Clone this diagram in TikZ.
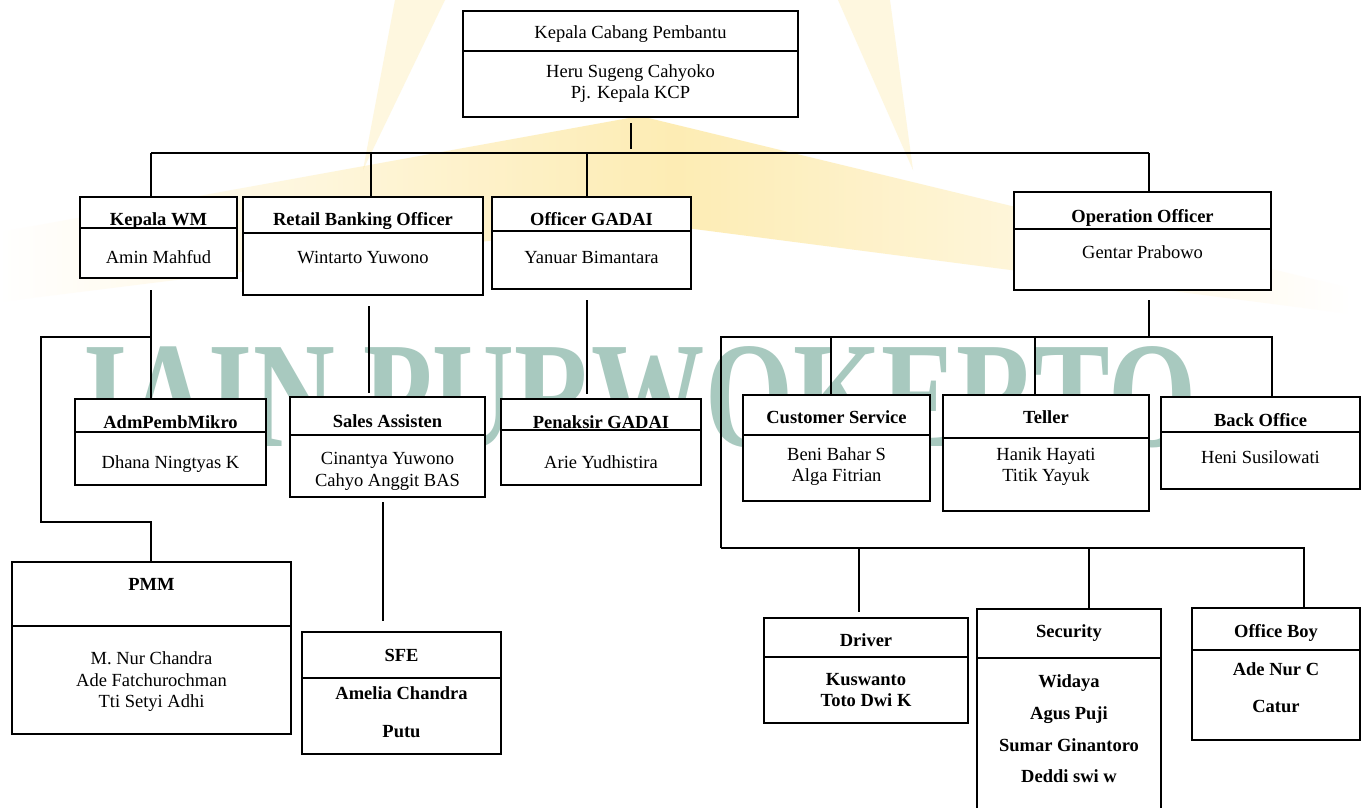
\documentclass[tikz,border=0pt]{standalone}
\usepackage{fontspec}
\setmainfont{Liberation Serif}
\definecolor{wmteal}{RGB}{168,201,191}
\definecolor{wmgold}{RGB}{253,224,130}
\tikzset{
  obox/.style={draw, line width=2pt, fill=white, inner sep=0pt, outer sep=0pt},
  divl/.style={line width=2pt},
  ttl/.style={font=\fontsize{18.5}{21.5}\selectfont\bfseries, align=center, inner sep=0pt, anchor=base},
  ttlr/.style={font=\fontsize{18.5}{21.5}\selectfont, align=center, inner sep=0pt, anchor=base},
  nm/.style={font=\fontsize{18.5}{21.5}\selectfont, align=center, inner sep=0pt},
  nmb/.style={font=\fontsize{18.5}{21.5}\selectfont\bfseries, align=center, inner sep=0pt},
  conn/.style={line width=1.7pt, line join=miter},
}
\newcommand\orgbox[6]{%
  \node[obox, anchor=north west, minimum width={#4-#2}, minimum height={#5-#3}] (#1) at (#2,#3) {};
  \draw[divl] (#1.west |- 0,#6) -- (#1.east |- 0,#6);
}
\begin{document}
\begin{tikzpicture}[x=1pt,y=-1pt]
\useasboundingbox (0,0) rectangle (1368,808);
\clip (0,0) rectangle (1368,808);
\fill[white] (0,0) rectangle (1368,808);

% watermark
\shade[left color=white, right color=white, middle color=wmgold, opacity=0.6] (0,232) -- (640,116) -- (1350,288) -- (1350,314) -- (640,222) -- (0,302) -- cycle;
\fill[wmgold, opacity=0.25] (395,0) -- (445,0) -- (363,170) -- cycle;
\fill[wmgold, opacity=0.25] (838,0) -- (890,0) -- (913,170) -- cycle;
\node[font=\fontsize{151}{151}\selectfont\bfseries, text=wmteal, anchor=base west, inner sep=0pt, xscale=0.75] (wm) at (83,446) {IAIN PURWOKERTO};

% connectors level 1
\coordinate (t0) at (631,123);
\coordinate (t1) at (631,149);
\coordinate (b1L) at (151,153);
\coordinate (b1R) at (1149,153);
\coordinate (b1rbo) at (371,153);
\coordinate (b1og) at (587,153);

% boxes
\orgbox{top}{463}{11}{798}{117}{51}
\orgbox{kwm}{80}{197}{237}{278}{228}
\orgbox{rbo}{243}{197}{483}{295}{233}
\orgbox{og}{492}{197}{691}{289}{231}
\orgbox{opo}{1014}{192}{1271}{290}{229}
\orgbox{adm}{75}{399}{266}{485}{432}
\orgbox{sales}{290}{397}{485}{497}{435}
\orgbox{pen}{501}{399}{701}{485}{430}
\orgbox{cs}{743}{395}{930}{501}{435}
\orgbox{teller}{943}{395}{1149}{511}{438}
\orgbox{bo}{1161}{397}{1360}{489}{432}
\orgbox{pmm}{12}{562}{291}{734}{626}
\orgbox{sfe}{302}{632}{501}{754}{678}
\orgbox{driver}{764}{618}{968}{723}{657}
\orgbox{sec}{977}{609}{1161}{830}{658}
\orgbox{ob}{1192}{608}{1360}{740}{650}

% texts
\node[ttlr] (top-t) at (top.north |- 0,39) {Kepala Cabang Pembantu};
\node[nm] (top-n) at (top.north |- 0,83.5) {Heru Sugeng Cahyoko\\Pj. Kepala KCP};
\node[ttl] (kwm-t) at (kwm.north |- 0,225) {Kepala WM};
\node[ttlr] (kwm-n) at (kwm.north |- 0,263) {Amin Mahfud};
\node[ttl] (rbo-t) at (rbo.north |- 0,225) {Retail Banking Officer};
\node[ttlr] (rbo-n) at (rbo.north |- 0,263) {Wintarto Yuwono};
\node[ttl] (og-t) at (og.north |- 0,225) {Officer GADAI};
\node[ttlr] (og-n) at (og.north |- 0,263) {Yanuar Bimantara};
\node[ttl] (opo-t) at (opo.north |- 0,222) {Operation Officer};
\node[ttlr] (opo-n) at (opo.north |- 0,258) {Gentar Prabowo};
\node[ttl] (adm-t) at (adm.north |- 0,428) {AdmPembMikro};
\node[ttlr] (adm-n) at (adm.north |- 0,468) {Dhana Ningtyas K};
\node[ttl] (sales-t) at (sales.north |- 0,427) {Sales Assisten};
\node[nm] (sales-n) at (sales.north |- 0,471.5) {Cinantya Yuwono\\Cahyo Anggit BAS};
\node[ttl] (pen-t) at (pen.north |- 0,428) {Penaksir GADAI};
\node[ttlr] (pen-n) at (pen.north |- 0,468) {Arie Yudhistira};
\node[ttl] (cs-t) at (cs.north |- 0,423) {Customer Service};
\node[nm] (cs-n) at (cs.north |- 0,466.5) {Beni Bahar S\\Alga Fitrian};
\node[ttl] (teller-t) at (teller.north |- 0,423) {Teller};
\node[nm] (teller-n) at (teller.north |- 0,466.5) {Hanik Hayati\\Titik Yayuk};
\node[ttl] (bo-t) at (bo.north |- 0,426) {Back Office};
\node[ttlr] (bo-n) at (bo.north |- 0,463) {Heni Susilowati};
\node[ttl] (pmm-t) at (pmm.north |- 0,590) {PMM};
\node[nm] (pmm-n) at (pmm.north |- 0,682) {M. Nur Chandra\\Ade Fatchurochman\\Tti Setyi Adhi};
\node[ttl] (sfe-t) at (sfe.north |- 0,661) {SFE};
\node[nmb] (sfe-n) at (sfe.north |- 0,712.5) {Amelia Chandra\\[16.5pt]Putu};
\node[ttl] (driver-t) at (driver.north |- 0,646) {Driver};
\node[nmb] (driver-n) at (driver.north |- 0,690) {Kuswanto\\Toto Dwi K};
\node[ttl] (sec-t) at (sec.north |- 0,637) {Security};
\node[nmb] (sec-n) at (sec.north |- 0,729) {Widaya\\[10.2pt]Agus Puji\\[10.2pt]Sumar Ginantoro\\[10.2pt]Deddi swi w};
\node[ttl] (ob-t) at (ob.north |- 0,637) {Office Boy};
\node[nmb] (ob-n) at (ob.north |- 0,688) {Ade Nur C\\[15.5pt]Catur};

% level 1 connectors
\draw[conn] (t0) -- (t1);
\draw[conn] (b1L) -- (b1R);
\draw[conn] (b1L) -- (b1L |- kwm.north);
\draw[conn] (b1rbo) -- (b1rbo |- rbo.north);
\draw[conn] (b1og) -- (b1og |- og.north);
\draw[conn] (b1R) -- (b1R |- opo.north);

% Kepala WM branch
\coordinate (k0) at (151,290);
\coordinate (k1) at (151,337);
\coordinate (k2) at (41,337);
\coordinate (k3) at (41,522);
\coordinate (k4) at (151,522);
\draw[conn] (k0) -- (k0 |- adm.north);
\draw[conn] (k1) -- (k2) -- (k3) -- (k4) -- (k4 |- pmm.north);

% RBO / GADAI / Sales
\coordinate (r0) at (369,306);
\coordinate (r1) at (369,393);
\draw[conn] (r0) -- (r1);
\coordinate (g0) at (587,300);
\coordinate (g1) at (587,394);
\draw[conn] (g0) -- (g1);
\coordinate (s0) at (383,502);
\coordinate (s1) at (383,621);
\draw[conn] (s0) -- (s1);

% Operation branch
\coordinate (o0) at (1149,300);
\coordinate (b2L) at (721,337);
\coordinate (b2R) at (1272,337);
\coordinate (b2cs) at (831,337);
\coordinate (b2te) at (1035,337);
\coordinate (b2o) at (1149,337);
\coordinate (b3L) at (721,548);
\coordinate (b3R) at (1304,548);
\coordinate (b3dr) at (859,548);
\coordinate (b3dr2) at (859,612);
\coordinate (b3se) at (1089,548);
\draw[conn] (o0) -- (b2o);
\draw[conn] (b3L) -- (b2L) -- (b2R) -- (b2R |- bo.north);
\draw[conn] (b2cs) -- (b2cs |- cs.north);
\draw[conn] (b2te) -- (b2te |- teller.north);
\draw[conn] (b3L) -- (b3R) -- (b3R |- ob.north);
\draw[conn] (b3dr) -- (b3dr2);
\draw[conn] (b3se) -- (b3se |- sec.north);
\end{tikzpicture}
\end{document}
